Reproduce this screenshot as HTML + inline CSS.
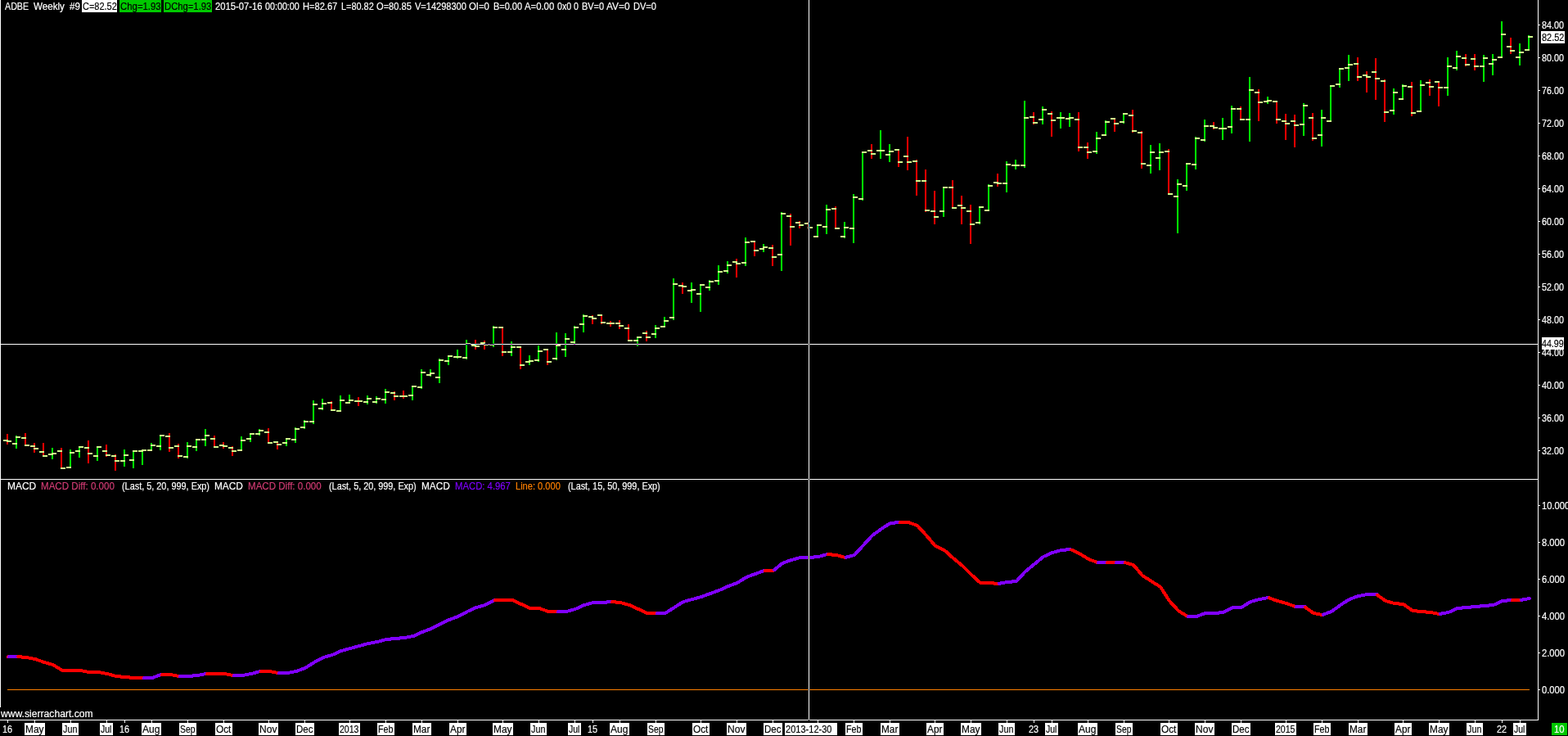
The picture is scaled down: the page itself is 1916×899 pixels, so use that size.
<!DOCTYPE html><html><head><meta charset="utf-8"><title>ADBE Weekly</title><style>
html,body{margin:0;padding:0;background:#000;}
body{width:1916px;height:899px;overflow:hidden;position:relative;font:12px/14px "Liberation Sans", sans-serif;color:#fff;}
svg{position:absolute;left:0;top:0;}
.t{position:absolute;white-space:pre;line-height:14px;font-size:12px;transform-origin:0 0;-webkit-text-stroke:0.18px currentColor;}
.b{position:absolute;}
.x{position:absolute;background:#fff;mix-blend-mode:difference;}
</style></head><body>
<svg width="1916" height="899" viewBox="0 0 1916 899" shape-rendering="crispEdges"><g fill="#fff"><rect x="0" y="0" width="1" height="864"/><rect x="0" y="585" width="1880" height="1"/><rect x="1879" y="0" width="1" height="880"/><rect x="0" y="879" width="1880" height="1"/><rect x="1880" y="30" width="2" height="1"/><rect x="1880" y="70" width="2" height="1"/><rect x="1880" y="110" width="2" height="1"/><rect x="1880" y="150" width="2" height="1"/><rect x="1880" y="190" width="2" height="1"/><rect x="1880" y="230" width="2" height="1"/><rect x="1880" y="270" width="2" height="1"/><rect x="1880" y="310" width="2" height="1"/><rect x="1880" y="350" width="2" height="1"/><rect x="1880" y="390" width="2" height="1"/><rect x="1880" y="430" width="2" height="1"/><rect x="1880" y="470" width="2" height="1"/><rect x="1880" y="510" width="2" height="1"/><rect x="1880" y="550" width="2" height="1"/><rect x="1880" y="617" width="2" height="1"/><rect x="1880" y="662" width="2" height="1"/><rect x="1880" y="707" width="2" height="1"/><rect x="1880" y="752" width="2" height="1"/><rect x="1880" y="797" width="2" height="1"/><rect x="1880" y="842" width="2" height="1"/><rect x="9" y="880" width="1" height="3"/><rect x="42" y="880" width="1" height="3"/><rect x="86" y="880" width="1" height="3"/><rect x="130" y="880" width="1" height="3"/><rect x="152" y="880" width="1" height="3"/><rect x="185" y="880" width="1" height="3"/><rect x="229" y="880" width="1" height="3"/><rect x="273" y="880" width="1" height="3"/><rect x="328" y="880" width="1" height="3"/><rect x="372" y="880" width="1" height="3"/><rect x="427" y="880" width="1" height="3"/><rect x="471" y="880" width="1" height="3"/><rect x="515" y="880" width="1" height="3"/><rect x="559" y="880" width="1" height="3"/><rect x="614" y="880" width="1" height="3"/><rect x="658" y="880" width="1" height="3"/><rect x="702" y="880" width="1" height="3"/><rect x="724" y="880" width="1" height="3"/><rect x="757" y="880" width="1" height="3"/><rect x="801" y="880" width="1" height="3"/><rect x="856" y="880" width="1" height="3"/><rect x="900" y="880" width="1" height="3"/><rect x="944" y="880" width="1" height="3"/><rect x="999" y="880" width="1" height="3"/><rect x="1043" y="880" width="1" height="3"/><rect x="1087" y="880" width="1" height="3"/><rect x="1142" y="880" width="1" height="3"/><rect x="1186" y="880" width="1" height="3"/><rect x="1230" y="880" width="1" height="3"/><rect x="1263" y="880" width="1" height="3"/><rect x="1285" y="880" width="1" height="3"/><rect x="1329" y="880" width="1" height="3"/><rect x="1373" y="880" width="1" height="3"/><rect x="1428" y="880" width="1" height="3"/><rect x="1472" y="880" width="1" height="3"/><rect x="1516" y="880" width="1" height="3"/><rect x="1571" y="880" width="1" height="3"/><rect x="1615" y="880" width="1" height="3"/><rect x="1659" y="880" width="1" height="3"/><rect x="1714" y="880" width="1" height="3"/><rect x="1758" y="880" width="1" height="3"/><rect x="1802" y="880" width="1" height="3"/><rect x="1835" y="880" width="1" height="3"/><rect x="1857" y="880" width="1" height="3"/></g><rect x="9" y="842" width="1860" height="1" fill="#ff8000"/><path fill="#00ff00" d="M19 532h2v16h-2zM63 547h2v14h-2zM85 549h2v23h-2zM96 545h2v14h-2zM118 545h2v18h-2zM151 549h2v21h-2zM162 550h2v22h-2zM173 549h2v19h-2zM184 541h2v10h-2zM195 531h2v19h-2zM228 540h2v20h-2zM239 536h2v15h-2zM250 524h2v21h-2zM294 533h2v18h-2zM305 529h2v11h-2zM316 524h2v8h-2zM349 535h2v10h-2zM360 522h2v19h-2zM371 513h2v11h-2zM382 489h2v29h-2zM393 487h2v14h-2zM415 483h2v20h-2zM426 482h2v11h-2zM448 483h2v11h-2zM459 484h2v9h-2zM470 475h2v18h-2zM503 471h2v18h-2zM514 451h2v24h-2zM525 451h2v9h-2zM536 438h2v30h-2zM547 434h2v12h-2zM558 427h2v11h-2zM569 415h2v24h-2zM602 398h2v26h-2zM624 417h2v18h-2zM646 434h2v12h-2zM657 422h2v20h-2zM679 406h2v34h-2zM690 407h2v29h-2zM701 398h2v23h-2zM712 384h2v22h-2zM778 411h2v12h-2zM800 397h2v16h-2zM811 387h2v13h-2zM822 340h2v51h-2zM844 345h2v25h-2zM855 347h2v34h-2zM866 342h2v13h-2zM877 324h2v24h-2zM888 319h2v15h-2zM910 290h2v35h-2zM932 298h2v10h-2zM954 259h2v72h-2zM998 274h2v16h-2zM1009 250h2v36h-2zM1031 271h2v20h-2zM1042 237h2v60h-2zM1053 185h2v60h-2zM1075 159h2v35h-2zM1086 176h2v22h-2zM1152 228h2v37h-2zM1196 252h2v22h-2zM1207 225h2v33h-2zM1229 197h2v38h-2zM1240 195h2v12h-2zM1251 123h2v82h-2zM1273 130h2v22h-2zM1295 137h2v20h-2zM1306 138h2v17h-2zM1339 161h2v27h-2zM1350 147h2v19h-2zM1372 138h2v13h-2zM1405 177h2v35h-2zM1416 175h2v33h-2zM1438 219h2v66h-2zM1449 199h2v34h-2zM1460 167h2v40h-2zM1471 146h2v27h-2zM1493 144h2v27h-2zM1504 129h2v34h-2zM1526 94h2v79h-2zM1548 118h2v9h-2zM1592 126h2v40h-2zM1614 134h2v45h-2zM1625 104h2v45h-2zM1636 83h2v24h-2zM1647 67h2v32h-2zM1702 108h2v32h-2zM1713 103h2v19h-2zM1735 98h2v39h-2zM1768 70h2v47h-2zM1779 62h2v24h-2zM1812 67h2v33h-2zM1823 66h2v26h-2zM1834 26h2v45h-2zM1856 53h2v27h-2zM1867 43h2v19h-2z"/><path fill="#ff0000" d="M8 530h2v13h-2zM30 529h2v16h-2zM41 541h2v12h-2zM52 541h2v17h-2zM74 547h2v26h-2zM107 538h2v28h-2zM129 543h2v15h-2zM140 555h2v20h-2zM206 529h2v23h-2zM217 542h2v18h-2zM261 532h2v15h-2zM272 540h2v8h-2zM283 545h2v12h-2zM327 523h2v19h-2zM338 539h2v10h-2zM404 490h2v12h-2zM437 485h2v11h-2zM481 478h2v11h-2zM492 477h2v10h-2zM580 415h2v12h-2zM591 416h2v11h-2zM613 399h2v36h-2zM635 423h2v28h-2zM668 426h2v20h-2zM723 385h2v11h-2zM734 384h2v12h-2zM745 392h2v7h-2zM756 391h2v11h-2zM767 396h2v21h-2zM789 404h2v13h-2zM833 345h2v14h-2zM899 316h2v23h-2zM921 294h2v19h-2zM943 299h2v26h-2zM965 261h2v39h-2zM976 270h2v9h-2zM987 271h2v9h-2zM1020 252h2v28h-2zM1064 176h2v18h-2zM1097 182h2v22h-2zM1108 167h2v41h-2zM1119 195h2v44h-2zM1130 207h2v52h-2zM1141 233h2v41h-2zM1163 220h2v35h-2zM1174 239h2v35h-2zM1185 250h2v48h-2zM1218 212h2v16h-2zM1262 137h2v15h-2zM1284 136h2v31h-2zM1317 137h2v48h-2zM1328 174h2v20h-2zM1361 144h2v17h-2zM1383 134h2v28h-2zM1394 160h2v46h-2zM1427 182h2v56h-2zM1482 149h2v9h-2zM1515 130h2v17h-2zM1537 109h2v39h-2zM1559 123h2v28h-2zM1570 139h2v32h-2zM1581 140h2v40h-2zM1603 138h2v34h-2zM1658 70h2v29h-2zM1669 87h2v26h-2zM1680 71h2v51h-2zM1691 97h2v52h-2zM1724 100h2v42h-2zM1746 97h2v20h-2zM1757 99h2v31h-2zM1790 66h2v15h-2zM1801 66h2v20h-2zM1845 46h2v20h-2z"/><path fill="#d0ff8c" d="M4 537h6v2h-6zM8 538h6v2h-6zM15 541h6v2h-6zM19 533h6v2h-6zM26 534h6v2h-6zM30 543h6v2h-6zM37 544h6v2h-6zM41 547h6v2h-6zM48 551h6v2h-6zM52 556h6v2h-6zM59 554h6v2h-6zM63 553h6v2h-6zM70 550h6v2h-6zM74 571h6v2h-6zM81 570h6v2h-6zM85 552h6v2h-6zM92 550h6v2h-6zM96 545h6v2h-6zM103 546h6v2h-6zM107 553h6v2h-6zM114 556h6v2h-6zM118 545h6v2h-6zM125 550h6v2h-6zM129 555h6v2h-6zM136 556h6v2h-6zM140 562h6v2h-6zM147 562h6v2h-6zM151 555h6v2h-6zM158 561h6v2h-6zM162 550h6v2h-6zM169 550h6v2h-6zM173 549h6v2h-6zM180 549h6v2h-6zM184 543h6v2h-6zM191 544h6v2h-6zM195 531h6v2h-6zM202 532h6v2h-6zM206 546h6v2h-6zM213 544h6v2h-6zM217 556h6v2h-6zM224 557h6v2h-6zM228 544h6v2h-6zM235 545h6v2h-6zM239 536h6v2h-6zM246 536h6v2h-6zM250 531h6v2h-6zM257 535h6v2h-6zM261 545h6v2h-6zM268 543h6v2h-6zM272 544h6v2h-6zM279 546h6v2h-6zM283 550h6v2h-6zM290 549h6v2h-6zM294 537h6v2h-6zM301 535h6v2h-6zM305 529h6v2h-6zM312 529h6v2h-6zM316 525h6v2h-6zM323 527h6v2h-6zM327 540h6v2h-6zM334 539h6v2h-6zM338 542h6v2h-6zM345 540h6v2h-6zM349 535h6v2h-6zM356 536h6v2h-6zM360 523h6v2h-6zM367 521h6v2h-6zM371 514h6v2h-6zM378 514h6v2h-6zM382 493h6v2h-6zM389 498h6v2h-6zM393 492h6v2h-6zM400 491h6v2h-6zM404 500h6v2h-6zM411 501h6v2h-6zM415 488h6v2h-6zM422 491h6v2h-6zM426 488h6v2h-6zM433 489h6v2h-6zM437 489h6v2h-6zM444 490h6v2h-6zM448 486h6v2h-6zM455 490h6v2h-6zM459 486h6v2h-6zM466 487h6v2h-6zM470 478h6v2h-6zM477 479h6v2h-6zM481 483h6v2h-6zM488 483h6v2h-6zM492 483h6v2h-6zM499 482h6v2h-6zM503 471h6v2h-6zM510 472h6v2h-6zM514 454h6v2h-6zM521 457h6v2h-6zM525 455h6v2h-6zM532 460h6v2h-6zM536 439h6v2h-6zM543 440h6v2h-6zM547 434h6v2h-6zM554 435h6v2h-6zM558 435h6v2h-6zM565 436h6v2h-6zM569 419h6v2h-6zM576 421h6v2h-6zM580 422h6v2h-6zM587 418h6v2h-6zM591 420h6v2h-6zM598 420h6v2h-6zM602 399h6v2h-6zM609 399h6v2h-6zM613 429h6v2h-6zM620 429h6v2h-6zM624 423h6v2h-6zM631 423h6v2h-6zM635 445h6v2h-6zM642 441h6v2h-6zM646 440h6v2h-6zM653 439h6v2h-6zM657 428h6v2h-6zM664 426h6v2h-6zM668 441h6v2h-6zM675 437h6v2h-6zM679 421h6v2h-6zM686 426h6v2h-6zM690 413h6v2h-6zM697 417h6v2h-6zM701 399h6v2h-6zM708 395h6v2h-6zM712 385h6v2h-6zM719 386h6v2h-6zM723 388h6v2h-6zM730 384h6v2h-6zM734 393h6v2h-6zM741 394h6v2h-6zM745 394h6v2h-6zM752 394h6v2h-6zM756 397h6v2h-6zM763 400h6v2h-6zM767 415h6v2h-6zM774 415h6v2h-6zM778 411h6v2h-6zM785 406h6v2h-6zM789 411h6v2h-6zM796 407h6v2h-6zM800 400h6v2h-6zM807 398h6v2h-6zM811 391h6v2h-6zM818 387h6v2h-6zM822 346h6v2h-6zM829 348h6v2h-6zM833 349h6v2h-6zM840 354h6v2h-6zM844 353h6v2h-6zM851 358h6v2h-6zM855 347h6v2h-6zM862 350h6v2h-6zM866 343h6v2h-6zM873 342h6v2h-6zM877 331h6v2h-6zM884 330h6v2h-6zM888 323h6v2h-6zM895 319h6v2h-6zM899 321h6v2h-6zM906 320h6v2h-6zM910 295h6v2h-6zM917 294h6v2h-6zM921 305h6v2h-6zM928 303h6v2h-6zM932 301h6v2h-6zM939 302h6v2h-6zM943 313h6v2h-6zM950 310h6v2h-6zM954 260h6v2h-6zM961 263h6v2h-6zM965 276h6v2h-6zM972 271h6v2h-6zM976 274h6v2h-6zM983 272h6v2h-6zM987 277h6v2h-6zM994 288h6v2h-6zM998 274h6v2h-6zM1005 276h6v2h-6zM1009 255h6v2h-6zM1016 254h6v2h-6zM1020 278h6v2h-6zM1027 288h6v2h-6zM1031 277h6v2h-6zM1038 278h6v2h-6zM1042 240h6v2h-6zM1049 242h6v2h-6zM1053 185h6v2h-6zM1060 183h6v2h-6zM1064 187h6v2h-6zM1071 183h6v2h-6zM1075 183h6v2h-6zM1082 188h6v2h-6zM1086 184h6v2h-6zM1093 182h6v2h-6zM1097 197h6v2h-6zM1104 190h6v2h-6zM1108 197h6v2h-6zM1115 196h6v2h-6zM1119 220h6v2h-6zM1126 220h6v2h-6zM1130 256h6v2h-6zM1137 257h6v2h-6zM1141 264h6v2h-6zM1148 257h6v2h-6zM1152 228h6v2h-6zM1159 228h6v2h-6zM1163 253h6v2h-6zM1170 250h6v2h-6zM1174 253h6v2h-6zM1181 257h6v2h-6zM1185 273h6v2h-6zM1192 271h6v2h-6zM1196 252h6v2h-6zM1203 256h6v2h-6zM1207 226h6v2h-6zM1214 222h6v2h-6zM1218 223h6v2h-6zM1225 223h6v2h-6zM1229 200h6v2h-6zM1236 201h6v2h-6zM1240 201h6v2h-6zM1247 201h6v2h-6zM1251 143h6v2h-6zM1258 142h6v2h-6zM1262 149h6v2h-6zM1269 145h6v2h-6zM1273 133h6v2h-6zM1280 138h6v2h-6zM1284 146h6v2h-6zM1291 143h6v2h-6zM1295 143h6v2h-6zM1302 144h6v2h-6zM1306 143h6v2h-6zM1313 145h6v2h-6zM1317 179h6v2h-6zM1324 179h6v2h-6zM1328 185h6v2h-6zM1335 184h6v2h-6zM1339 168h6v2h-6zM1346 164h6v2h-6zM1350 148h6v2h-6zM1357 144h6v2h-6zM1361 150h6v2h-6zM1368 148h6v2h-6zM1372 138h6v2h-6zM1379 140h6v2h-6zM1383 159h6v2h-6zM1390 161h6v2h-6zM1394 199h6v2h-6zM1401 201h6v2h-6zM1405 185h6v2h-6zM1412 192h6v2h-6zM1416 185h6v2h-6zM1423 184h6v2h-6zM1427 236h6v2h-6zM1434 239h6v2h-6zM1438 224h6v2h-6zM1445 226h6v2h-6zM1449 199h6v2h-6zM1456 200h6v2h-6zM1460 168h6v2h-6zM1467 170h6v2h-6zM1471 153h6v2h-6zM1478 153h6v2h-6zM1482 155h6v2h-6zM1489 156h6v2h-6zM1493 156h6v2h-6zM1500 154h6v2h-6zM1504 132h6v2h-6zM1511 132h6v2h-6zM1515 145h6v2h-6zM1522 145h6v2h-6zM1526 109h6v2h-6zM1533 112h6v2h-6zM1537 124h6v2h-6zM1544 123h6v2h-6zM1548 122h6v2h-6zM1555 123h6v2h-6zM1559 145h6v2h-6zM1566 147h6v2h-6zM1570 150h6v2h-6zM1577 147h6v2h-6zM1581 152h6v2h-6zM1588 151h6v2h-6zM1592 128h6v2h-6zM1599 143h6v2h-6zM1603 168h6v2h-6zM1610 164h6v2h-6zM1614 143h6v2h-6zM1621 147h6v2h-6zM1625 104h6v2h-6zM1632 102h6v2h-6zM1636 83h6v2h-6zM1643 82h6v2h-6zM1647 78h6v2h-6zM1654 77h6v2h-6zM1658 93h6v2h-6zM1665 91h6v2h-6zM1669 93h6v2h-6zM1676 87h6v2h-6zM1680 95h6v2h-6zM1687 98h6v2h-6zM1691 136h6v2h-6zM1698 134h6v2h-6zM1702 112h6v2h-6zM1709 120h6v2h-6zM1713 104h6v2h-6zM1720 105h6v2h-6zM1724 137h6v2h-6zM1731 135h6v2h-6zM1735 103h6v2h-6zM1742 100h6v2h-6zM1746 105h6v2h-6zM1753 99h6v2h-6zM1757 106h6v2h-6zM1764 106h6v2h-6zM1768 80h6v2h-6zM1775 82h6v2h-6zM1779 68h6v2h-6zM1786 70h6v2h-6zM1790 78h6v2h-6zM1797 71h6v2h-6zM1801 80h6v2h-6zM1808 80h6v2h-6zM1812 70h6v2h-6zM1819 77h6v2h-6zM1823 72h6v2h-6zM1830 69h6v2h-6zM1834 41h6v2h-6zM1841 56h6v2h-6zM1845 61h6v2h-6zM1852 69h6v2h-6zM1856 63h6v2h-6zM1863 60h6v2h-6zM1867 44h6v2h-6z"/><g fill="none" stroke-width="4" stroke-linejoin="round" stroke-linecap="round"><polyline stroke="#ff0000" points="10.0,802.0 10.0,802.0"/><polyline stroke="#8000ff" points="11.0,802.0 21.0,802.0"/><polyline stroke="#ff0000" points="22.0,802.1 32.0,803.0 43.0,805.0 54.0,809.0 65.0,812.0 76.0,819.0 87.0,819.0 98.0,819.0 109.0,821.0 120.0,821.0 131.0,823.0 142.0,826.0 153.0,827.0 164.0,828.0 175.0,828.0"/><polyline stroke="#8000ff" points="176.0,828.0 186.0,828.0 197.0,824.0"/><polyline stroke="#ff0000" points="198.0,824.0 208.0,824.0 219.0,826.0"/><polyline stroke="#8000ff" points="220.0,826.0 230.0,826.0 241.0,825.0 252.0,823.0"/><polyline stroke="#ff0000" points="253.0,823.0 263.0,823.0 274.0,823.0 285.0,825.0"/><polyline stroke="#8000ff" points="286.0,825.0 296.0,825.0 307.0,823.0 318.0,820.0"/><polyline stroke="#ff0000" points="319.0,820.0 329.0,820.0 340.0,822.0"/><polyline stroke="#8000ff" points="341.0,822.0 351.0,822.0 362.0,820.0 373.0,816.0 384.0,809.0 395.0,803.0 406.0,800.0 417.0,795.0 428.0,792.0 439.0,789.0 450.0,786.0 461.0,784.0 472.0,781.0 483.0,780.0 494.0,779.0 505.0,777.0 516.0,772.0 527.0,768.0 538.0,762.0 549.0,757.0 560.0,753.0 571.0,747.0 582.0,742.0 593.0,739.0 604.0,733.0"/><polyline stroke="#ff0000" points="605.0,733.0 615.0,733.0 626.0,733.0 637.0,738.0 648.0,743.0 659.0,743.0 670.0,747.0 681.0,747.0"/><polyline stroke="#8000ff" points="682.0,747.0 692.0,747.0 703.0,744.0 714.0,739.0 725.0,736.0 736.0,736.0 747.0,735.0"/><polyline stroke="#ff0000" points="748.0,735.1 758.0,736.0 769.0,739.0 780.0,744.0 791.0,749.0 802.0,749.0"/><polyline stroke="#8000ff" points="803.0,749.0 813.0,749.0 824.0,742.0 835.0,735.0 846.0,732.0 857.0,729.0 868.0,725.0 879.0,721.0 890.0,716.0 901.0,712.0 912.0,705.0 923.0,701.0 934.0,697.0"/><polyline stroke="#ff0000" points="935.0,697.0 945.0,697.0"/><polyline stroke="#8000ff" points="946.0,696.2 956.0,688.0 967.0,684.0 978.0,681.0 989.0,681.0 1000.0,680.0 1011.0,677.0"/><polyline stroke="#ff0000" points="1012.0,677.1 1022.0,678.0 1033.0,681.0"/><polyline stroke="#8000ff" points="1034.0,680.7 1044.0,678.0 1055.0,666.0 1066.0,654.0 1077.0,646.0 1088.0,639.0 1099.0,638.0"/><polyline stroke="#ff0000" points="1100.0,638.0 1110.0,638.0 1121.0,642.0 1132.0,654.0 1143.0,667.0 1154.0,672.0 1165.0,682.0 1176.0,691.0 1187.0,702.0 1198.0,712.0 1209.0,712.0 1220.0,713.0"/><polyline stroke="#8000ff" points="1221.0,712.8 1231.0,711.0 1242.0,710.0 1253.0,698.0 1264.0,689.0 1275.0,680.0 1286.0,675.0 1297.0,672.0 1308.0,671.0"/><polyline stroke="#ff0000" points="1309.0,671.5 1319.0,676.0 1330.0,683.0 1341.0,687.0"/><polyline stroke="#8000ff" points="1342.0,687.0 1352.0,687.0"/><polyline stroke="#ff0000" points="1353.0,687.0 1363.0,687.0"/><polyline stroke="#8000ff" points="1364.0,687.0 1374.0,687.0"/><polyline stroke="#ff0000" points="1375.0,687.3 1385.0,690.0 1396.0,703.0 1407.0,710.0 1418.0,717.0 1429.0,734.0 1440.0,746.0 1451.0,753.0"/><polyline stroke="#8000ff" points="1452.0,753.0 1462.0,753.0 1473.0,749.0 1484.0,749.0 1495.0,748.0 1506.0,742.0 1517.0,742.0 1528.0,735.0 1539.0,732.0 1550.0,730.0"/><polyline stroke="#ff0000" points="1551.0,730.4 1561.0,734.0 1572.0,737.0 1583.0,741.0"/><polyline stroke="#8000ff" points="1584.0,741.0 1594.0,741.0"/><polyline stroke="#ff0000" points="1595.0,741.7 1605.0,749.0 1616.0,751.0"/><polyline stroke="#8000ff" points="1617.0,750.6 1627.0,747.0 1638.0,739.0 1649.0,732.0 1660.0,728.0 1671.0,726.0 1682.0,726.0"/><polyline stroke="#ff0000" points="1683.0,726.7 1693.0,734.0 1704.0,737.0 1715.0,738.0 1726.0,746.0 1737.0,747.0 1748.0,748.0 1759.0,750.0"/><polyline stroke="#8000ff" points="1760.0,749.8 1770.0,748.0 1781.0,743.0 1792.0,742.0 1803.0,741.0 1814.0,740.0 1825.0,739.0 1836.0,734.0 1847.0,733.0"/><polyline stroke="#ff0000" points="1848.0,733.0 1858.0,733.0"/><polyline stroke="#8000ff" points="1859.0,732.8 1869.0,731.0"/></g></svg>
<div class="x" style="left:1px;top:420px;width:1878px;height:1px"></div>
<div class="x" style="left:988px;top:0;width:1px;height:880px"></div>
<div class="b" style="left:100px;top:0px;width:43px;height:15px;background:#fff"></div>
<div class="b" style="left:146px;top:0px;width:51px;height:15px;background:#00c800"></div>
<div class="b" style="left:200px;top:0px;width:59px;height:15px;background:#00c800"></div>
<div class="b" style="left:1883px;top:38px;width:29px;height:15px;background:#fff"></div>
<div class="b" style="left:1884px;top:412px;width:27px;height:15px;background:#fff"></div>
<div class="b" style="left:1896px;top:883px;width:19px;height:15px;background:#00c800"></div>
<div class="b" style="left:0px;top:864px;width:114px;height:15px;background:#000"></div>
<span class="t" style="left:3.19px;top:883.84px;color:#fff;transform:scaleX(0.9000);">16</span>
<div class="b" style="left:30px;top:883px;width:25px;height:15px;background:#fff"></div>
<span class="t" style="left:31.30px;top:883.84px;color:#000;transform:scaleX(0.9880);">May</span>
<div class="b" style="left:76px;top:883px;width:20px;height:15px;background:#fff"></div>
<span class="t" style="left:77.30px;top:883.84px;color:#000;transform:scaleX(0.8988);">Jun</span>
<div class="b" style="left:122px;top:883px;width:16px;height:15px;background:#fff"></div>
<span class="t" style="left:123.30px;top:883.84px;color:#000;transform:scaleX(0.8733);">Jul</span>
<span class="t" style="left:146.19px;top:883.84px;color:#fff;transform:scaleX(0.9000);">16</span>
<div class="b" style="left:173px;top:883px;width:24px;height:15px;background:#fff"></div>
<span class="t" style="left:174.30px;top:883.84px;color:#000;transform:scaleX(1.0019);">Aug</span>
<div class="b" style="left:219px;top:883px;width:21px;height:15px;background:#fff"></div>
<span class="t" style="left:220.30px;top:883.84px;color:#000;transform:scaleX(0.8614);">Sep</span>
<div class="b" style="left:263px;top:883px;width:21px;height:15px;background:#fff"></div>
<span class="t" style="left:264.30px;top:883.84px;color:#000;transform:scaleX(0.9854);">Oct</span>
<div class="b" style="left:316px;top:883px;width:24px;height:15px;background:#fff"></div>
<span class="t" style="left:317.30px;top:883.84px;color:#000;transform:scaleX(1.0026);">Nov</span>
<div class="b" style="left:361px;top:883px;width:23px;height:15px;background:#fff"></div>
<span class="t" style="left:362.30px;top:883.84px;color:#000;transform:scaleX(0.9558);">Dec</span>
<div class="b" style="left:414px;top:883px;width:26px;height:15px;background:#fff"></div>
<span class="t" style="left:415.30px;top:883.84px;color:#000;transform:scaleX(0.8763);">2013</span>
<div class="b" style="left:461px;top:883px;width:21px;height:15px;background:#fff"></div>
<span class="t" style="left:462.30px;top:883.84px;color:#000;transform:scaleX(0.8894);">Feb</span>
<div class="b" style="left:504px;top:883px;width:23px;height:15px;background:#fff"></div>
<span class="t" style="left:505.30px;top:883.84px;color:#000;transform:scaleX(0.9868);">Mar</span>
<div class="b" style="left:549px;top:883px;width:21px;height:15px;background:#fff"></div>
<span class="t" style="left:550.30px;top:883.84px;color:#000;transform:scaleX(0.9846);">Apr</span>
<div class="b" style="left:602px;top:883px;width:25px;height:15px;background:#fff"></div>
<span class="t" style="left:603.30px;top:883.84px;color:#000;transform:scaleX(0.9880);">May</span>
<div class="b" style="left:648px;top:883px;width:20px;height:15px;background:#fff"></div>
<span class="t" style="left:649.30px;top:883.84px;color:#000;transform:scaleX(0.8988);">Jun</span>
<div class="b" style="left:694px;top:883px;width:16px;height:15px;background:#fff"></div>
<span class="t" style="left:695.30px;top:883.84px;color:#000;transform:scaleX(0.8733);">Jul</span>
<span class="t" style="left:718.19px;top:883.84px;color:#fff;transform:scaleX(0.9000);">15</span>
<div class="b" style="left:745px;top:883px;width:24px;height:15px;background:#fff"></div>
<span class="t" style="left:746.30px;top:883.84px;color:#000;transform:scaleX(1.0019);">Aug</span>
<div class="b" style="left:791px;top:883px;width:21px;height:15px;background:#fff"></div>
<span class="t" style="left:792.30px;top:883.84px;color:#000;transform:scaleX(0.8614);">Sep</span>
<div class="b" style="left:846px;top:883px;width:21px;height:15px;background:#fff"></div>
<span class="t" style="left:847.30px;top:883.84px;color:#000;transform:scaleX(0.9854);">Oct</span>
<div class="b" style="left:888px;top:883px;width:24px;height:15px;background:#fff"></div>
<span class="t" style="left:889.30px;top:883.84px;color:#000;transform:scaleX(1.0026);">Nov</span>
<div class="b" style="left:933px;top:883px;width:23px;height:15px;background:#fff"></div>
<span class="t" style="left:934.30px;top:883.84px;color:#000;transform:scaleX(0.9558);">Dec</span>
<div class="b" style="left:1033px;top:883px;width:21px;height:15px;background:#fff"></div>
<span class="t" style="left:1034.30px;top:883.84px;color:#000;transform:scaleX(0.8894);">Feb</span>
<div class="b" style="left:1076px;top:883px;width:23px;height:15px;background:#fff"></div>
<span class="t" style="left:1077.30px;top:883.84px;color:#000;transform:scaleX(0.9868);">Mar</span>
<div class="b" style="left:1132px;top:883px;width:21px;height:15px;background:#fff"></div>
<span class="t" style="left:1133.30px;top:883.84px;color:#000;transform:scaleX(0.9846);">Apr</span>
<div class="b" style="left:1174px;top:883px;width:25px;height:15px;background:#fff"></div>
<span class="t" style="left:1175.30px;top:883.84px;color:#000;transform:scaleX(0.9880);">May</span>
<div class="b" style="left:1220px;top:883px;width:20px;height:15px;background:#fff"></div>
<span class="t" style="left:1221.30px;top:883.84px;color:#000;transform:scaleX(0.8988);">Jun</span>
<span class="t" style="left:1257.19px;top:883.84px;color:#fff;transform:scaleX(0.9000);">23</span>
<div class="b" style="left:1277px;top:883px;width:16px;height:15px;background:#fff"></div>
<span class="t" style="left:1278.30px;top:883.84px;color:#000;transform:scaleX(0.8733);">Jul</span>
<div class="b" style="left:1317px;top:883px;width:24px;height:15px;background:#fff"></div>
<span class="t" style="left:1318.30px;top:883.84px;color:#000;transform:scaleX(1.0019);">Aug</span>
<div class="b" style="left:1363px;top:883px;width:21px;height:15px;background:#fff"></div>
<span class="t" style="left:1364.30px;top:883.84px;color:#000;transform:scaleX(0.8614);">Sep</span>
<div class="b" style="left:1418px;top:883px;width:21px;height:15px;background:#fff"></div>
<span class="t" style="left:1419.30px;top:883.84px;color:#000;transform:scaleX(0.9854);">Oct</span>
<div class="b" style="left:1460px;top:883px;width:24px;height:15px;background:#fff"></div>
<span class="t" style="left:1461.30px;top:883.84px;color:#000;transform:scaleX(1.0026);">Nov</span>
<div class="b" style="left:1505px;top:883px;width:23px;height:15px;background:#fff"></div>
<span class="t" style="left:1506.30px;top:883.84px;color:#000;transform:scaleX(0.9558);">Dec</span>
<div class="b" style="left:1558px;top:883px;width:26px;height:15px;background:#fff"></div>
<span class="t" style="left:1559.30px;top:883.84px;color:#000;transform:scaleX(0.8763);">2015</span>
<div class="b" style="left:1605px;top:883px;width:21px;height:15px;background:#fff"></div>
<span class="t" style="left:1606.30px;top:883.84px;color:#000;transform:scaleX(0.8894);">Feb</span>
<div class="b" style="left:1648px;top:883px;width:23px;height:15px;background:#fff"></div>
<span class="t" style="left:1649.30px;top:883.84px;color:#000;transform:scaleX(0.9868);">Mar</span>
<div class="b" style="left:1704px;top:883px;width:21px;height:15px;background:#fff"></div>
<span class="t" style="left:1705.30px;top:883.84px;color:#000;transform:scaleX(0.9846);">Apr</span>
<div class="b" style="left:1746px;top:883px;width:25px;height:15px;background:#fff"></div>
<span class="t" style="left:1747.30px;top:883.84px;color:#000;transform:scaleX(0.9880);">May</span>
<div class="b" style="left:1792px;top:883px;width:20px;height:15px;background:#fff"></div>
<span class="t" style="left:1793.30px;top:883.84px;color:#000;transform:scaleX(0.8988);">Jun</span>
<span class="t" style="left:1829.19px;top:883.84px;color:#fff;transform:scaleX(0.9000);">22</span>
<div class="b" style="left:1849px;top:883px;width:16px;height:15px;background:#fff"></div>
<span class="t" style="left:1850.30px;top:883.84px;color:#000;transform:scaleX(0.8733);">Jul</span>
<div class="b" style="left:959px;top:883px;width:64px;height:15px;background:#fff"></div>
<span class="t" style="left:5.60px;top:0.84px;color:#fff;transform:scaleX(0.8902);">ADBE</span>
<span class="t" style="left:40.60px;top:0.84px;color:#fff;transform:scaleX(0.9687);">Weekly</span>
<span class="t" style="left:84.60px;top:0.84px;color:#fff;transform:scaleX(0.9656);">#9</span>
<span class="t" style="left:101.30px;top:0.84px;color:#000;transform:scaleX(0.9146);">C=82.52</span>
<span class="t" style="left:147.40px;top:0.84px;color:#000;transform:scaleX(0.9486);">Chg=1.93</span>
<span class="t" style="left:201.40px;top:0.84px;color:#000;transform:scaleX(0.9386);">DChg=1.93</span>
<span class="t" style="left:262.90px;top:0.84px;color:#fff;transform:scaleX(0.9350);">2015-07-16</span>
<span class="t" style="left:323.60px;top:0.84px;color:#fff;transform:scaleX(0.8947);">00:00:00</span>
<span class="t" style="left:369.70px;top:0.84px;color:#fff;transform:scaleX(0.9234);">H=82.67</span>
<span class="t" style="left:416.60px;top:0.84px;color:#fff;transform:scaleX(0.9081);">L=80.82</span>
<span class="t" style="left:460.40px;top:0.84px;color:#fff;transform:scaleX(0.9251);">O=80.85</span>
<span class="t" style="left:506.60px;top:0.84px;color:#fff;transform:scaleX(0.9195);">V=14298300</span>
<span class="t" style="left:573.30px;top:0.84px;color:#fff;transform:scaleX(0.9446);">OI=0</span>
<span class="t" style="left:602.50px;top:0.84px;color:#fff;transform:scaleX(0.9121);">B=0.00</span>
<span class="t" style="left:641.30px;top:0.84px;color:#fff;transform:scaleX(0.9433);">A=0.00</span>
<span class="t" style="left:680.80px;top:0.84px;color:#fff;transform:scaleX(0.8850);">0x0</span>
<span class="t" style="left:700.50px;top:0.84px;color:#fff;transform:scaleX(0.8850);">0</span>
<span class="t" style="left:710.60px;top:0.84px;color:#fff;transform:scaleX(0.9090);">BV=0</span>
<span class="t" style="left:740.90px;top:0.84px;color:#fff;transform:scaleX(0.9892);">AV=0</span>
<span class="t" style="left:773.50px;top:0.84px;color:#fff;transform:scaleX(0.9223);">DV=0</span>
<span class="t" style="left:9.20px;top:586.84px;color:#fff;transform:scaleX(0.9959);">MACD</span>
<span class="t" style="left:50.20px;top:586.84px;color:#d23c74;transform:scaleX(0.9650);">MACD Diff: 0.000</span>
<span class="t" style="left:149.10px;top:586.84px;color:#fff;transform:scaleX(0.9062);">(Last, 5, 20, 999, Exp)</span>
<span class="t" style="left:262.20px;top:586.84px;color:#fff;transform:scaleX(0.9874);">MACD</span>
<span class="t" style="left:303.20px;top:586.84px;color:#d23c74;transform:scaleX(0.9629);">MACD Diff: 0.000</span>
<span class="t" style="left:402.30px;top:586.84px;color:#fff;transform:scaleX(0.9036);">(Last, 5, 20, 999, Exp)</span>
<span class="t" style="left:515.10px;top:586.84px;color:#fff;transform:scaleX(0.9874);">MACD</span>
<span class="t" style="left:555.70px;top:586.84px;color:#8000ff;transform:scaleX(0.9426);">MACD: 4.967</span>
<span class="t" style="left:630.20px;top:586.84px;color:#ff8000;transform:scaleX(0.9227);">Line: 0.000</span>
<span class="t" style="left:694.40px;top:586.84px;color:#fff;transform:scaleX(0.9034);">(Last, 15, 50, 999, Exp)</span>
<span class="t" style="left:0.60px;top:864.84px;color:#fff;transform:scaleX(1.0111);">www.sierrachart.com</span>
<span class="t" style="left:1884.00px;top:23.84px;color:#fff;transform:scaleX(0.8957);">84.00</span>
<span class="t" style="left:1884.00px;top:63.84px;color:#fff;transform:scaleX(0.8957);">80.00</span>
<span class="t" style="left:1884.00px;top:103.84px;color:#fff;transform:scaleX(0.8957);">76.00</span>
<span class="t" style="left:1884.00px;top:143.84px;color:#fff;transform:scaleX(0.8957);">72.00</span>
<span class="t" style="left:1884.00px;top:183.84px;color:#fff;transform:scaleX(0.8957);">68.00</span>
<span class="t" style="left:1884.00px;top:223.84px;color:#fff;transform:scaleX(0.8957);">64.00</span>
<span class="t" style="left:1884.00px;top:263.84px;color:#fff;transform:scaleX(0.8957);">60.00</span>
<span class="t" style="left:1884.00px;top:303.84px;color:#fff;transform:scaleX(0.8957);">56.00</span>
<span class="t" style="left:1884.00px;top:343.84px;color:#fff;transform:scaleX(0.8957);">52.00</span>
<span class="t" style="left:1884.00px;top:383.84px;color:#fff;transform:scaleX(0.8957);">48.00</span>
<span class="t" style="left:1884.00px;top:423.84px;color:#fff;transform:scaleX(0.8957);">44.00</span>
<span class="t" style="left:1884.00px;top:463.84px;color:#fff;transform:scaleX(0.8957);">40.00</span>
<span class="t" style="left:1884.00px;top:503.84px;color:#fff;transform:scaleX(0.8957);">36.00</span>
<span class="t" style="left:1884.00px;top:543.84px;color:#fff;transform:scaleX(0.8957);">32.00</span>
<span class="t" style="left:1884.00px;top:610.84px;color:#fff;transform:scaleX(0.9291);">10.000</span>
<span class="t" style="left:1884.00px;top:655.84px;color:#fff;transform:scaleX(0.9357);">8.000</span>
<span class="t" style="left:1884.00px;top:700.84px;color:#fff;transform:scaleX(0.9357);">6.000</span>
<span class="t" style="left:1884.00px;top:745.84px;color:#fff;transform:scaleX(0.9357);">4.000</span>
<span class="t" style="left:1884.00px;top:790.84px;color:#fff;transform:scaleX(0.9357);">2.000</span>
<span class="t" style="left:1884.00px;top:835.84px;color:#fff;transform:scaleX(0.9357);">0.000</span>
<span class="t" style="left:1883.60px;top:38.84px;color:#000;transform:scaleX(0.9091);">82.52</span>
<span class="t" style="left:1883.60px;top:412.84px;color:#000;transform:scaleX(0.8891);">44.99</span>
<span class="t" style="left:1899.20px;top:883.84px;color:#fff;transform:scaleX(0.9432);">10</span>
<span class="t" style="left:960.40px;top:883.84px;color:#000;transform:scaleX(0.9203);">2013-12-30</span>
</body></html>
